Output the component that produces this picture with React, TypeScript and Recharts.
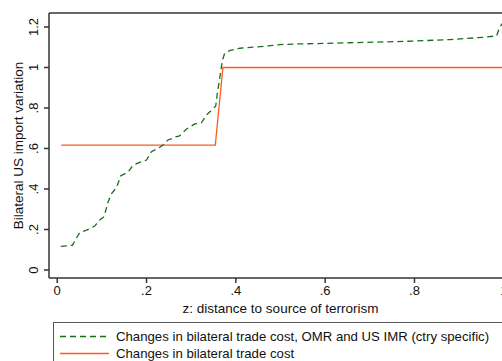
import { Label, LineChart, Line, ReferenceLine, XAxis, YAxis } from "recharts";

// green: changes in bilateral trade cost, OMR and US IMR
const zGreen = [
  0.008, 0.034, 0.05, 0.067, 0.084, 0.095, 0.105, 0.114, 0.121, 0.133, 0.142,
  0.159, 0.17, 0.189, 0.2, 0.211, 0.226, 0.237, 0.248, 0.267, 0.274, 0.289,
  0.308, 0.323, 0.334, 0.345, 0.355, 0.358, 0.362, 0.366, 0.37, 0.375, 0.386,
  0.409, 0.439, 0.469, 0.498, 0.536, 0.6, 0.655, 0.73, 0.805, 0.88, 0.954,
  0.984, 0.991, 0.998,
];
const vGreen = [
  0.117, 0.122, 0.184, 0.198, 0.217, 0.247, 0.263, 0.337, 0.375, 0.408, 0.464,
  0.485, 0.518, 0.535, 0.543, 0.584, 0.601, 0.617, 0.642, 0.658, 0.662, 0.695,
  0.721, 0.727, 0.765, 0.787, 0.81, 0.864, 0.92, 0.98, 1.037, 1.07, 1.083,
  1.095, 1.1, 1.106, 1.113, 1.116, 1.119, 1.122, 1.126, 1.131, 1.138, 1.149,
  1.156, 1.2, 1.22,
];

// red: changes in bilateral trade cost only
const zRed = [0.009, 0.354, 0.371, 1.0];
const vRed = [0.617, 0.617, 1.0, 1.0];

const xTicks = [0, 0.2, 0.4, 0.6, 0.8, 1];
const yTicks = [0, 0.2, 0.4, 0.6, 0.8, 1, 1.2];

const legendLabels = [
  "Changes in bilateral trade cost, OMR and US IMR (ctry specific)",
  "Changes in bilateral trade cost",
];

const GREEN = "#157015";
const RED = "#ff5a1f";
const AXIS = "#333";
const FONT = "'Liberation Sans', Arial, sans-serif";

const greenData = zGreen.map((z, i) => ({ z, v: vGreen[i] }));
const redData = zRed.map((z, i) => ({ z, v: vRed[i] }));

// stata style: .2 instead of 0.2
const fmt = (v: number) => {
  const s = String(Math.round(v * 10) / 10);
  return s.startsWith("0.") ? s.slice(1) : s;
};

function YTick(props: any) {
  const { x, y, payload } = props;
  return (
    <text
      x={x}
      y={y}
      transform={`rotate(-90, ${x}, ${y})`}
      textAnchor="middle"
      fontSize={13}
      fill="#111"
      fontFamily={FONT}
    >
      {fmt(payload.value)}
    </text>
  );
}

export default function App() {
  return (
    <div
      style={{
        position: "fixed",
        left: 0,
        top: 0,
        width: 502,
        height: 361,
        overflow: "hidden",
        background: "#fff",
        fontFamily: FONT,
      }}
    >
      <LineChart
        width={522}
        height={361}
        margin={{ top: 13, right: 10, left: 0, bottom: 43 }}
      >
        <XAxis
          dataKey="z"
          type="number"
          domain={[-0.0184, 1.0184]}
          ticks={xTicks}
          tickFormatter={fmt}
          allowDataOverflow
          height={40}
          stroke={AXIS}
          strokeWidth={1.5}
          tickSize={5}
          tickMargin={3}
          tick={{ fontSize: 13, fill: "#111", fontFamily: FONT }}
        >
          <Label
            value="z: distance to source of terrorism"
            position="insideBottom"
            offset={5}
            fontSize={13.5}
            fill="#111"
            fontFamily={FONT}
          />
        </XAxis>
        <YAxis
          dataKey="v"
          type="number"
          domain={[-0.0395, 1.269]}
          ticks={yTicks}
          allowDataOverflow
          width={49}
          stroke={AXIS}
          strokeWidth={1.5}
          tickSize={5}
          tickMargin={6}
          tick={<YTick />}
        >
          <Label
            content={() => (
              <text
                x={18}
                y={145.5}
                transform="rotate(-90, 18, 145.5)"
                textAnchor="middle"
                dominantBaseline="central"
                fontSize={13.5}
                fill="#111"
                fontFamily={FONT}
              >
                Bilateral US import variation
              </text>
            )}
          />
        </YAxis>
        <ReferenceLine y={1.269} stroke={AXIS} strokeWidth={1.5} ifOverflow="extendDomain" />
        <Line
          data={redData}
          dataKey="v"
          type="linear"
          stroke={RED}
          strokeWidth={1.3}
          dot={false}
          isAnimationActive={false}
        />
        <Line
          data={greenData}
          dataKey="v"
          type="linear"
          stroke={GREEN}
          strokeWidth={1.3}
          strokeDasharray="6 4"
          dot={false}
          isAnimationActive={false}
        />
      </LineChart>
      <div
        style={{
          position: "absolute",
          left: 53,
          top: 322,
          width: 470,
          height: 60,
          border: "1px solid #555",
          boxSizing: "border-box",
        }}
      >
        <svg width={470} height={60} style={{ position: "absolute", left: 0, top: 0 }}>
          {legendLabels.map((label, i) => {
            const cy = 13.5 + i * 17;
            return (
              <g key={label}>
                <line
                  x1={6}
                  x2={55}
                  y1={cy}
                  y2={cy}
                  stroke={i === 0 ? GREEN : RED}
                  strokeWidth={1.3}
                  strokeDasharray={i === 0 ? "6 4" : undefined}
                />
                <text
                  x={62}
                  y={cy}
                  dominantBaseline="central"
                  fontSize={13.2}
                  fill="#111"
                  fontFamily={FONT}
                >
                  {label}
                </text>
              </g>
            );
          })}
        </svg>
      </div>
    </div>
  );
}
